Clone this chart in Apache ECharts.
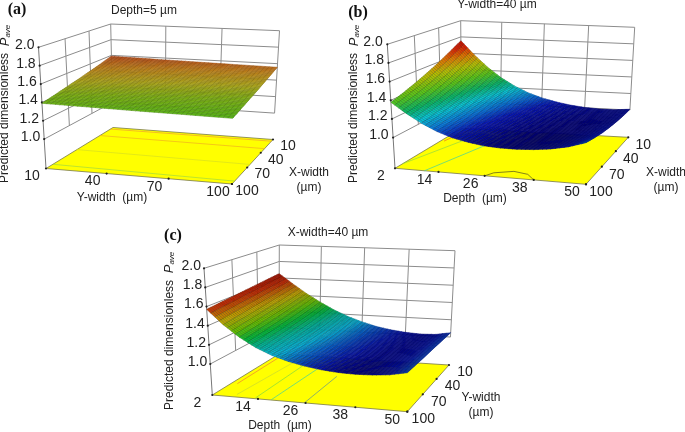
<!DOCTYPE html>
<html lang="en">

<head>
    <meta charset="UTF-8">
    <title>Predicted dimensionless Pave surfaces</title>
    <script src="https://cdn.jsdelivr.net/npm/echarts@6/dist/echarts.min.js"></script>
    <style>
        body,
        html {
            margin: 0;
            padding: 0;
            background: #fff;
        }

        #main {
            width: 685px;
            height: 432px;
        }
    </style>
</head>

<body>
    <div id="main"></div>
    <script>
        // values
        var xWidthTicks = [10, 40, 70, 100];
        var yWidthTicks = [10, 40, 70, 100];
        var depthTicks = [2, 14, 26, 38, 50];
        var zTicks = [1.0, 1.2, 1.4, 1.6, 1.8, 2.0];

        var widthSamples = [10, 25, 40, 55, 70, 85, 100];
        var depthSamples = [2, 6, 10, 14, 18, 22, 26, 30, 34, 38, 42, 46, 50];

        // rows: X-width 10..100, columns: Y-width 10..100
        var surfaceA = [
            [1.59, 1.583, 1.577, 1.571, 1.566, 1.561, 1.556],
            [1.552, 1.546, 1.54, 1.534, 1.529, 1.524, 1.519],
            [1.516, 1.51, 1.504, 1.498, 1.493, 1.488, 1.483],
            [1.482, 1.476, 1.47, 1.464, 1.459, 1.454, 1.449],
            [1.451, 1.445, 1.439, 1.433, 1.428, 1.423, 1.418],
            [1.42, 1.414, 1.408, 1.402, 1.397, 1.392, 1.387],
            [1.39, 1.384, 1.378, 1.372, 1.367, 1.362, 1.357]
        ];
        // rows: X-width 10..100, columns: depth 2..50
        var surfaceB = [
            [1.753, 1.585, 1.44, 1.32, 1.225, 1.15, 1.095, 1.055, 1.025, 1.005, 0.995, 0.995, 1.01],
            [1.674, 1.516, 1.379, 1.266, 1.178, 1.11, 1.06, 1.025, 1.0, 0.985, 0.98, 0.986, 1.007],
            [1.601, 1.453, 1.325, 1.22, 1.138, 1.076, 1.031, 1.001, 0.981, 0.971, 0.971, 0.983, 1.012],
            [1.535, 1.397, 1.277, 1.18, 1.105, 1.05, 1.01, 0.985, 0.97, 0.965, 0.97, 0.988, 1.023],
            [1.476, 1.348, 1.236, 1.146, 1.078, 1.03, 0.995, 0.975, 0.965, 0.965, 0.975, 0.998, 1.04],
            [1.424, 1.306, 1.202, 1.12, 1.058, 1.016, 0.986, 0.971, 0.966, 0.971, 0.986, 1.016, 1.065],
            [1.378, 1.27, 1.175, 1.1, 1.045, 1.01, 0.985, 0.975, 0.975, 0.985, 1.005, 1.04, 1.096]
        ];
        // rows: Y-width 10..100, columns: depth 2..50
        var surfaceC = [
            [1.652, 1.535, 1.425, 1.33, 1.245, 1.175, 1.12, 1.075, 1.045, 1.025, 1.015, 1.02, 1.05],
            [1.639, 1.516, 1.404, 1.309, 1.227, 1.16, 1.108, 1.067, 1.039, 1.022, 1.014, 1.021, 1.051],
            [1.625, 1.497, 1.383, 1.288, 1.208, 1.145, 1.097, 1.058, 1.033, 1.018, 1.013, 1.022, 1.053],
            [1.612, 1.478, 1.363, 1.268, 1.19, 1.13, 1.085, 1.05, 1.028, 1.015, 1.012, 1.022, 1.054],
            [1.598, 1.458, 1.342, 1.247, 1.172, 1.115, 1.073, 1.042, 1.022, 1.012, 1.012, 1.023, 1.055],
            [1.585, 1.439, 1.321, 1.226, 1.153, 1.1, 1.062, 1.033, 1.016, 1.008, 1.011, 1.024, 1.057],
            [1.571, 1.42, 1.3, 1.205, 1.135, 1.085, 1.05, 1.025, 1.01, 1.005, 1.01, 1.025, 1.058]
        ];

        // contour lines on the floor, [front axis value, width value]
        var contoursA = [
            [[10, 14], [100, 14]],
            [[10, 30], [100, 31]],
            [[10, 62], [100, 64]],
            [[10, 92], [100, 95]]
        ];
        var contoursB = [
            [[3, 41.5], [5, 10]],
            [[2, 91], [7.9, 39], [11.6, 10]],
            [[10.2, 100], [16.4, 40.6], [20, 10]],
            [[26, 100], [27.2, 94], [31.4, 89], [35.3, 92], [38, 100]]
        ];
        var contoursC = [
            [[3.6, 76.7], [3.5, 14.7]],
            [[7.6, 95.7], [9.5, 24.9]],
            [[13.1, 98.8], [13.2, 29]],
            [[17.3, 99.4], [18.1, 36.5]],
            [[25.7, 100], [25.4, 49]]
        ];

        var panels = [{
            letter: '(a)', letterPos: [17, 10],
            title: 'Depth=5 µm', titlePos: [144, 11],
            front: yWidthTicks, frontSamples: widthSamples, side: xWidthTicks,
            frontName: 'Y-width  (µm)', frontNamePos: [112, 198],
            sideName: 'X-width\n(µm)', sideNamePos: [309, 180],
            zNamePos: [5, 183],
            floor: [[46, 168.5], [232, 184], [273, 139.5], [113, 127.5]],
            top: [[38.5, 47.3], [233.3, 56], [279.5, 30.7], [110.7, 24]],
            z0: 0.68,
            frontLabel: [-14, 8], sideLabel: [15, 7], zLabel: [-4, -2],
            surface: surfaceA, subU: 7, subV: 7,
            contours: contoursA,
            contourColors: ['#f0a030', '#f0b020', '#d8e020', '#a0d840'],
            stops: [[1.357, '#60c818'], [1.42, '#90c818'], [1.47, '#c8c020'], [1.53, '#e09820'], [1.59, '#d85820']]
        }, {
            letter: '(b)', letterPos: [358, 13],
            title: 'Y-width=40 µm', titlePos: [497, 5],
            front: depthTicks, frontSamples: depthSamples, side: xWidthTicks,
            frontName: 'Depth  (µm)', frontNamePos: [475, 199],
            sideName: 'X-width\n(µm)', sideNamePos: [666, 180],
            zNamePos: [354, 183],
            floor: [[395, 168.3], [586, 184.3], [628.3, 137.3], [461.7, 128.3]],
            top: [[387.3, 44.3], [585.7, 54.3], [634.7, 27.3], [460.7, 20.7]],
            z0: 0.671,
            frontLabel: [-14, 8], sideLabel: [15, 8], zLabel: [-4.5, -2.5],
            surface: surfaceB, subU: 4, subV: 7,
            contours: contoursB,
            contourColors: ['#f07020', '#90d840', '#40d0a0', '#505020'],
            stops: [[0.965, '#000088'], [1.05, '#0818c0'], [1.12, '#0878e0'], [1.2, '#08c8d8'], [1.28, '#08b868'], [1.38, '#58c818'], [1.5, '#b8c000'], [1.6, '#e07800'], [1.68, '#d82000'], [1.753, '#b81000']]
        }, {
            letter: '(c)', letterPos: [173, 236],
            title: 'X-width=40 µm', titlePos: [328, 233],
            front: depthTicks, frontSamples: depthSamples, side: yWidthTicks,
            frontName: 'Depth  (µm)', frontNamePos: [280, 426],
            sideName: 'Y-width\n(µm)', sideNamePos: [481, 405],
            zNamePos: [169.5, 410],
            floor: [[212.3, 395], [407.3, 411.7], [449, 365], [279, 354]],
            top: [[204, 268.3], [407.5, 276.7], [455, 250.7], [279.3, 245]],
            z0: 0.676,
            frontLabel: [-15, 8], sideLabel: [16, 7.5], zLabel: [-3, -2],
            surface: surfaceC, subU: 4, subV: 7,
            contours: contoursC,
            contourColors: ['#f08030', '#c8d830', '#80d840', '#40d0a0', '#609090'],
            stops: [[1.005, '#000090'], [1.03, '#0818b8'], [1.08, '#0868d8'], [1.13, '#08b8e0'], [1.2, '#00b8a0'], [1.27, '#00b838'], [1.35, '#68c000'], [1.45, '#c0a400'], [1.57, '#c02800'], [1.652, '#a01000']]
        }];

        // unit square -> floor or top quad of the box
        function makeHomography(q) {
            var dx1 = q[1][0] - q[2][0], dx2 = q[3][0] - q[2][0], sx = q[0][0] - q[1][0] + q[2][0] - q[3][0];
            var dy1 = q[1][1] - q[2][1], dy2 = q[3][1] - q[2][1], sy = q[0][1] - q[1][1] + q[2][1] - q[3][1];
            var den = dx1 * dy2 - dx2 * dy1;
            var g = (sx * dy2 - dx2 * sy) / den, h = (dx1 * sy - sx * dy1) / den;
            var a = q[1][0] - q[0][0] + g * q[1][0], b = q[3][0] - q[0][0] + h * q[3][0];
            var d = q[1][1] - q[0][1] + g * q[1][1], e = q[3][1] - q[0][1] + h * q[3][1];
            return function (u, v) {
                var w = g * u + h * v + 1;
                return [(a * u + b * v + q[0][0]) / w, (d * u + e * v + q[0][1]) / w];
            };
        }
        panels.forEach(function (p) {
            p.floorH = makeHomography(p.floor);
            p.topH = makeHomography(p.top);
        });

        function project(p, u, v, z) {
            var f = p.floorH(u, v), t = p.topH(u, v), k = (z - p.z0) / (2 - p.z0);
            return [f[0] + (t[0] - f[0]) * k, f[1] + (t[1] - f[1]) * k];
        }
        function uOf(p, val) {
            return (val - p.front[0]) / (p.front[p.front.length - 1] - p.front[0]);
        }
        function vOf(p, val) {
            return (p.side[p.side.length - 1] - val) / (p.side[p.side.length - 1] - p.side[0]);
        }
        function hexRgb(c) {
            return [parseInt(c.slice(1, 3), 16), parseInt(c.slice(3, 5), 16), parseInt(c.slice(5, 7), 16)];
        }
        function colorOf(p, z, shade) {
            var s = p.stops, a = hexRgb(s[0][1]), b = a, k = 0;
            for (var i = 1; i < s.length; i++) {
                if (z > s[i - 1][0]) {
                    a = hexRgb(s[i - 1][1]);
                    b = hexRgb(s[i][1]);
                    k = Math.min(1, (z - s[i - 1][0]) / (s[i][0] - s[i - 1][0]));
                }
            }
            return 'rgb(' + Math.round((a[0] + (b[0] - a[0]) * k) * shade) + ',' + Math.round((a[1] + (b[1] - a[1]) * k) * shade) + ',' + Math.round((a[2] + (b[2] - a[2]) * k) * shade) + ')';
        }

        var floors = [], lines = [], dots = [], cells = [], texts = [];
        var wallColor = '#8c8c8c';
        var sansFont = '"Liberation Sans", Arial, sans-serif';

        function addLine(points, color, width) {
            lines.push({ points: points, color: color, width: width });
        }
        function addText(text, pos, size, align) {
            texts.push({ text: text, pos: pos, size: size, align: align });
        }

        panels.forEach(function (p, pi) {
            floors.push({ points: p.floor });
            // contours lie on the floor
            p.contours.forEach(function (c, ci) {
                addLine(c.map(function (pt) {
                    return project(p, uOf(p, pt[0]), vOf(p, pt[1]), p.z0);
                }), p.contourColors[ci], 0.7);
            });
            // walls
            zTicks.forEach(function (z) {
                addLine([project(p, 0, 0, z), project(p, 0, 1, z), project(p, 1, 1, z)], wallColor, 1);
            });
            p.side.forEach(function (val, i) {
                if (i == 0 || i == p.side.length - 1) return;
                addLine([project(p, 0, vOf(p, val), 1), project(p, 0, vOf(p, val), 2)], wallColor, 1);
            });
            p.front.forEach(function (val) {
                addLine([project(p, uOf(p, val), 1, 1), project(p, uOf(p, val), 1, 2)], wallColor, 1);
            });
            addLine([project(p, 0, 0, p.z0), project(p, 0, 0, 2)], '#777', 1);
            // ticks and their labels
            zTicks.forEach(function (z) {
                var pos = project(p, 0, 0, z);
                dots.push(pos);
                addText(z.toFixed(1), [pos[0] + p.zLabel[0], pos[1] + p.zLabel[1]], 14, 'right');
            });
            p.front.forEach(function (val) {
                var pos = project(p, uOf(p, val), 0, p.z0);
                dots.push(pos);
                addText(String(val), [pos[0] + p.frontLabel[0], pos[1] + p.frontLabel[1]], 14, 'center');
            });
            p.side.forEach(function (val) {
                var pos = project(p, 1, vOf(p, val), p.z0);
                dots.push(pos);
                addText(String(val), [pos[0] + p.sideLabel[0], pos[1] + p.sideLabel[1]], 14, 'center');
            });
            addText(p.title, p.titlePos, 12, 'center');
            addText(p.frontName, p.frontNamePos, 12, 'center');
            addText(p.sideName, p.sideNamePos, 12, 'center');
            // surface cells, back row first
            for (var r = 0; r < p.surface.length - 1; r++) {
                for (var c = 0; c < p.surface[r].length - 1; c++) {
                    cells.push({ panel: pi, row: r, col: c });
                }
            }
        });

        function indexList(list) {
            return list.map(function (item, i) { return [i, 0]; });
        }
        function toPixels(api, points) {
            return points.map(function (pt) { return api.coord(pt); });
        }

        var myChart = echarts.init(document.getElementById('main'), null, { renderer: 'canvas' });
        var option = {
            animation: false,
            grid: { left: 0, right: 0, top: 0, bottom: 0 },
            xAxis: { type: 'value', min: 0, max: 685, show: false },
            yAxis: { type: 'value', min: 0, max: 432, inverse: true, show: false },
            series: [{
                type: 'custom', clip: false, silent: true, data: indexList(floors),
                renderItem: function (params, api) {
                    return {
                        type: 'polygon',
                        shape: { points: toPixels(api, floors[params.dataIndex].points) },
                        style: { fill: '#ffff00', stroke: '#77774a', lineWidth: 0.8 }
                    };
                }
            }, {
                type: 'custom', clip: false, silent: true, data: indexList(lines),
                renderItem: function (params, api) {
                    var l = lines[params.dataIndex];
                    return {
                        type: 'polyline',
                        shape: { points: toPixels(api, l.points) },
                        style: { fill: null, stroke: l.color, lineWidth: l.width }
                    };
                }
            }, {
                type: 'custom', clip: false, silent: true, data: indexList(dots),
                renderItem: function (params, api) {
                    var pos = api.coord(dots[params.dataIndex]);
                    return {
                        type: 'circle',
                        shape: { cx: pos[0], cy: pos[1], r: 1.1 },
                        style: { fill: '#222' }
                    };
                }
            }, {
                type: 'custom', clip: false, silent: true, data: indexList(cells),
                renderItem: function (params, api) {
                    var cell = cells[params.dataIndex], p = panels[cell.panel];
                    var rows = p.surface, nr = rows.length - 1, nc = rows[0].length - 1;
                    var z00 = rows[cell.row][cell.col], z01 = rows[cell.row][cell.col + 1];
                    var z10 = rows[cell.row + 1][cell.col], z11 = rows[cell.row + 1][cell.col + 1];
                    var children = [];
                    // shade each cell with the fine mesh of the original plot
                    for (var i = 0; i < p.subV; i++) {
                        for (var j = 0; j < p.subU; j++) {
                            var corner = function (ii, jj) {
                                var a = ii / p.subV, b = jj / p.subU;
                                var z = z00 * (1 - a) * (1 - b) + z01 * (1 - a) * b + z10 * a * (1 - b) + z11 * a * b;
                                return { z: z, pos: api.coord(project(p, (cell.col + b) / nc, 1 - (cell.row + a) / nr, z)) };
                            };
                            var c0 = corner(i, j), c1 = corner(i, j + 1), c2 = corner(i + 1, j + 1), c3 = corner(i + 1, j);
                            var avg = (c0.z + c1.z + c2.z + c3.z) / 4;
                            children.push({
                                type: 'polygon',
                                shape: { points: [c0.pos, c1.pos, c2.pos, c3.pos] },
                                style: {
                                    fill: colorOf(p, avg, 1),
                                    stroke: colorOf(p, avg, 0.62),
                                    lineWidth: 0.5
                                }
                            });
                        }
                    }
                    return { type: 'group', children: children };
                }
            }, {
                type: 'custom', clip: false, silent: true, data: indexList(texts),
                renderItem: function (params, api) {
                    var t = texts[params.dataIndex], pos = api.coord(t.pos);
                    return {
                        type: 'text', x: pos[0], y: pos[1],
                        style: {
                            text: t.text, fill: '#222', font: t.size + 'px ' + sansFont,
                            align: t.align, verticalAlign: 'middle', lineHeight: 15
                        }
                    };
                }
            }, {
                type: 'custom', clip: false, silent: true, data: indexList(panels),
                renderItem: function (params, api) {
                    var p = panels[params.dataIndex];
                    var lp = api.coord(p.letterPos), np = api.coord(p.zNamePos);
                    return {
                        type: 'group',
                        children: [{
                            type: 'text', x: lp[0], y: lp[1],
                            style: {
                                text: p.letter, fill: '#111',
                                font: 'bold 16px "Liberation Serif", serif',
                                align: 'center', verticalAlign: 'middle'
                            }
                        }, {
                            type: 'text', x: np[0], y: np[1], rotation: Math.PI / 2,
                            style: {
                                text: '{a|Predicted dimensionless  }{p|P}{s|ave}',
                                align: 'left', verticalAlign: 'middle',
                                rich: {
                                    a: { fill: '#222', font: '12px ' + sansFont, lineHeight: 16 },
                                    p: { fill: '#222', font: 'italic 13px ' + sansFont, lineHeight: 16 },
                                    s: { fill: '#222', font: 'italic 8px ' + sansFont, lineHeight: 16, padding: [5, 0, 0, 0] }
                                }
                            }
                        }]
                    };
                }
            }]
        };
        myChart.setOption(option);
    </script>
</body>

</html>
